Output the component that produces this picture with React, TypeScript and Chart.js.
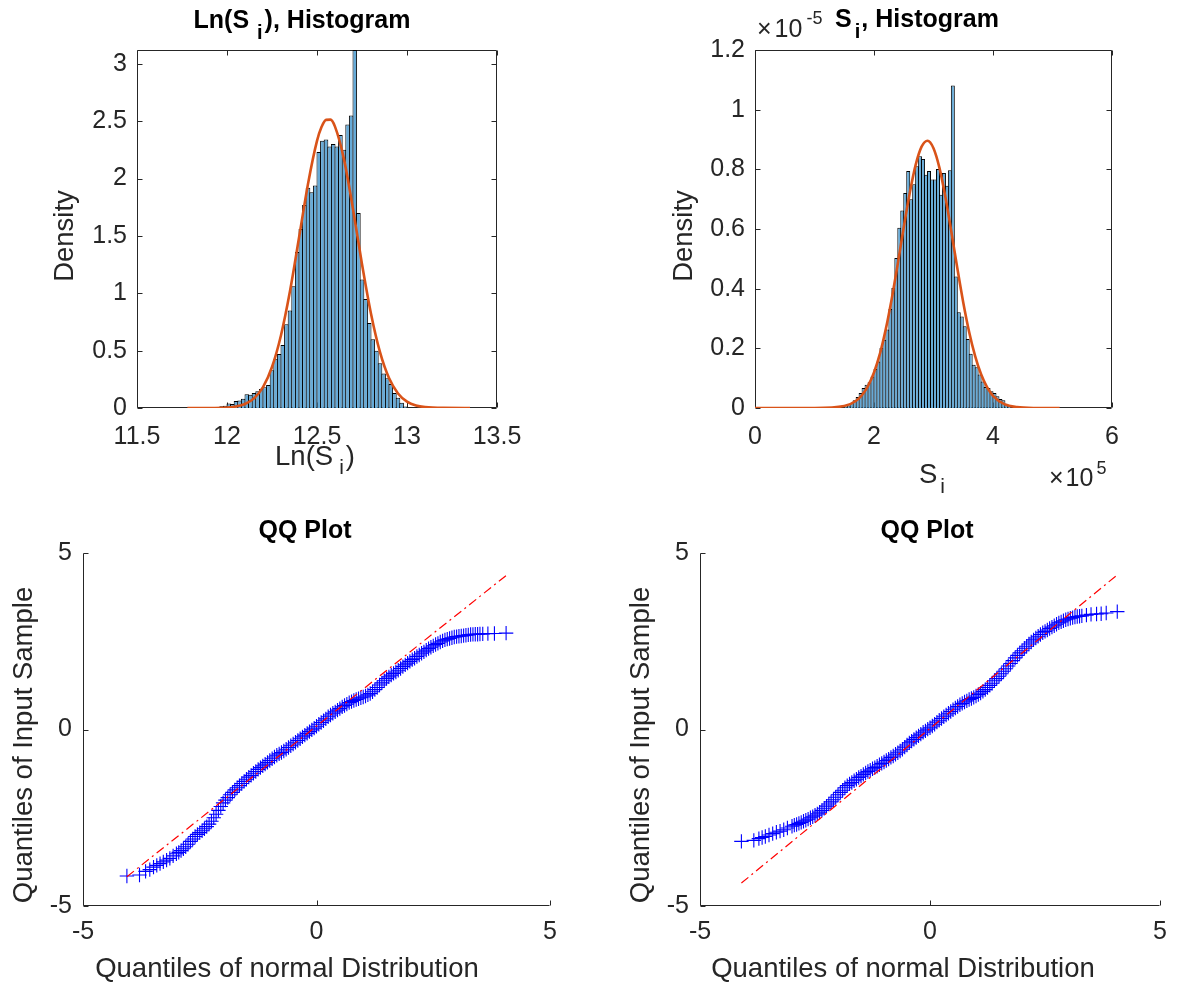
import { useEffect, useRef } from 'react';
import { Chart, registerables } from 'chart.js';

Chart.register(...registerables);

const W = 1178;
const H = 986;
const FONT = '"Liberation Sans", Arial, Helvetica, sans-serif';
const AX = '#262626';
const ORANGE = '#D95319';
const BAR_FILL = 'rgb(102,170,215)';
const TICK = 25;
const LABEL = 27.5;
const TITLE = 25;
const YW = 60;
const XH = 50;

// ---------------- data ----------------
// Ln(S_i) histogram (bin left edges, width 0.02) and density
const LN_BIN_WIDTH = 0.02;
const LN_BIN_LEFT = [
  11.96, 11.98, 12.0, 12.02, 12.04, 12.06, 12.08, 12.1, 12.12, 12.14, 12.16, 12.18, 12.2, 12.22, 12.24, 12.26,
  12.28, 12.3, 12.32, 12.34, 12.36, 12.38, 12.4, 12.42, 12.44, 12.46, 12.48, 12.5, 12.52, 12.54, 12.56, 12.58,
  12.6, 12.62, 12.64, 12.66, 12.68, 12.7, 12.72, 12.74, 12.76, 12.78, 12.8, 12.82, 12.84, 12.86, 12.88, 12.9,
  12.92, 12.94, 12.96, 12.98,
];
const LN_DENSITY = [
  0.015, 0.02, 0.04, 0.035, 0.06, 0.065, 0.08, 0.12, 0.115, 0.13, 0.145, 0.165, 0.18, 0.2, 0.33, 0.43,
  0.47, 0.55, 0.73, 0.85, 1.06, 1.36, 1.56, 1.77, 1.92, 1.88, 1.94, 2.23, 2.33, 2.34, 2.28, 2.3,
  2.28, 2.38, 2.25, 2.47, 2.55, 3.12, 1.7, 1.12, 0.95, 0.74, 0.6, 0.5, 0.39, 0.3, 0.26, 0.21,
  0.13, 0.09, 0.045, 0.012,
];
const LN_FIT_X = [
  11.78, 11.9, 12.0, 12.05, 12.1, 12.15, 12.2, 12.25, 12.3, 12.35, 12.4, 12.45, 12.5, 12.525, 12.55, 12.575,
  12.6, 12.65, 12.7, 12.75, 12.8, 12.85, 12.9, 12.95, 13.0, 13.05, 13.1, 13.2, 13.35,
];
const LN_FIT_Y = [
  0, 0.0004, 0.0045, 0.013, 0.035, 0.084, 0.182, 0.357, 0.634, 1.019, 1.483, 1.953, 2.328, 2.448, 2.511, 2.513,
  2.452, 2.167, 1.734, 1.254, 0.822, 0.487, 0.261, 0.127, 0.056, 0.022, 0.008, 0.0008, 0,
];
const LN_X_TICKS = [11.5, 12, 12.5, 13, 13.5];
const LN_Y_TICKS = [0, 0.5, 1, 1.5, 2, 2.5, 3];

// S_i histogram: x in units of 1e5, density in units of 1e-5
const S_BIN_WIDTH_E5 = 0.05;
const S_BIN_LEFT_E5 = [
  1.5, 1.55, 1.6, 1.65, 1.7, 1.75, 1.8, 1.85, 1.9, 1.95, 2.0, 2.05, 2.1, 2.15, 2.2, 2.25, 2.3, 2.35, 2.4, 2.45,
  2.5, 2.55, 2.6, 2.65, 2.7, 2.75, 2.8, 2.85, 2.9, 2.95, 3.0, 3.05, 3.1, 3.15, 3.2, 3.25, 3.3, 3.35, 3.4, 3.45,
  3.5, 3.55, 3.6, 3.65, 3.7, 3.75, 3.8, 3.85, 3.9, 3.95, 4.0, 4.05, 4.1, 4.15, 4.2, 4.25,
];
const S_DENSITY_E_5 = [
  0.005, 0.008, 0.017, 0.026, 0.037, 0.05, 0.067, 0.078, 0.086, 0.106, 0.131, 0.156, 0.201, 0.229, 0.263, 0.332,
  0.402, 0.503, 0.604, 0.662, 0.721, 0.794, 0.7, 0.75, 0.81, 0.844, 0.835, 0.782, 0.794, 0.766, 0.766, 0.801,
  0.715, 0.788, 0.745, 0.797, 1.081, 0.441, 0.321, 0.307, 0.274, 0.231, 0.182, 0.145, 0.137, 0.112, 0.089, 0.07,
  0.067, 0.056, 0.05, 0.039, 0.03, 0.026, 0.014, 0.008,
];
const S_FIT_X_E5 = [
  0, 1.0, 1.5, 1.7, 1.8, 1.9, 2.0, 2.1, 2.2, 2.3, 2.4, 2.5, 2.6, 2.7, 2.8, 2.9, 3.0, 3.1, 3.2, 3.3, 3.4, 3.5,
  3.6, 3.7, 3.8, 3.9, 4.0, 4.2, 4.4, 4.7, 5.12,
];
const S_FIT_Y_E_5 = [
  0, 0.0001, 0.0066, 0.0245, 0.0437, 0.074, 0.119, 0.182, 0.266, 0.368, 0.484, 0.606, 0.72, 0.815, 0.876, 0.896,
  0.871, 0.805, 0.707, 0.591, 0.469, 0.354, 0.254, 0.174, 0.113, 0.07, 0.041, 0.012, 0.003, 0.0002, 0,
];
const S_X_TICKS = [0, 2, 4, 6];
const S_Y_TICKS = [0, 0.2, 0.4, 0.6, 0.8, 1, 1.2];

// Theoretical normal quantiles used in both QQ plots
const QQ_X_LEFT_TAIL_1 = [-4.06, -3.79, -3.66, -3.57, -3.49, -3.42, -3.35, -3.28, -3.21, -3.14, -3.07];
const QQ_X_MID = [
  -3.0, -2.95, -2.9, -2.85, -2.8, -2.75, -2.7, -2.65, -2.6, -2.55, -2.5, -2.45, -2.4, -2.35, -2.3, -2.25, -2.2,
  -2.15, -2.1, -2.05, -2.0, -1.95, -1.9, -1.85, -1.8, -1.75, -1.7, -1.65, -1.6, -1.55, -1.5, -1.45, -1.4, -1.35,
  -1.3, -1.25, -1.2, -1.15, -1.1, -1.05, -1.0, -0.95, -0.9, -0.85, -0.8, -0.75, -0.7, -0.65, -0.6, -0.55, -0.5,
  -0.45, -0.4, -0.35, -0.3, -0.25, -0.2, -0.15, -0.1, -0.05, 0.0, 0.05, 0.1, 0.15, 0.2, 0.25, 0.3, 0.35, 0.4,
  0.45, 0.5, 0.55, 0.6, 0.65, 0.7, 0.75, 0.8, 0.85, 0.9, 0.95, 1.0, 1.05, 1.1, 1.15, 1.2, 1.25, 1.3, 1.35, 1.4,
  1.45, 1.5, 1.55, 1.6, 1.65, 1.7, 1.75, 1.8, 1.85, 1.9, 1.95, 2.0, 2.05, 2.1, 2.15, 2.2, 2.25, 2.3, 2.35, 2.4,
  2.45, 2.5, 2.55, 2.6, 2.65, 2.7, 2.75, 2.8, 2.85, 2.9, 2.95, 3.0,
];
const QQ_X_RIGHT_TAIL_1 = [3.05, 3.1, 3.15, 3.2, 3.25, 3.3, 3.35, 3.4, 3.45, 3.5, 3.56, 3.67, 3.81, 4.06];

// QQ plot of Ln(S_i): sample quantiles
const QQ1_Y_LEFT_TAIL = [-4.15, -4.12, -4.02, -3.97, -3.9, -3.85, -3.8, -3.75, -3.7, -3.65, -3.58];
const QQ1_Y_MID = [
  -3.52, -3.48, -3.43, -3.38, -3.32, -3.25, -3.17, -3.1, -3.03, -2.97, -2.92, -2.87, -2.81, -2.75, -2.68, -2.6,
  -2.5, -2.4, -2.29, -2.18, -2.08, -2.0, -1.93, -1.85, -1.78, -1.71, -1.65, -1.59, -1.53, -1.47, -1.41, -1.35,
  -1.3, -1.24, -1.19, -1.13, -1.08, -1.03, -0.98, -0.93, -0.88, -0.83, -0.78, -0.73, -0.69, -0.65, -0.61, -0.56,
  -0.51, -0.46, -0.41, -0.36, -0.31, -0.26, -0.21, -0.16, -0.11, -0.06, -0.01, 0.04, 0.09, 0.15, 0.2, 0.25, 0.3,
  0.36, 0.41, 0.46, 0.5, 0.55, 0.59, 0.64, 0.68, 0.72, 0.76, 0.79, 0.82, 0.85, 0.87, 0.9, 0.92, 0.95, 0.98, 1.02,
  1.07, 1.13, 1.19, 1.26, 1.32, 1.38, 1.44, 1.49, 1.54, 1.59, 1.63, 1.68, 1.73, 1.78, 1.83, 1.88, 1.93, 1.98,
  2.02, 2.07, 2.11, 2.16, 2.2, 2.25, 2.29, 2.33, 2.37, 2.41, 2.44, 2.48, 2.51, 2.54, 2.56, 2.58, 2.6, 2.62, 2.63,
];
const QQ1_Y_RIGHT_TAIL = [2.64, 2.65, 2.66, 2.67, 2.68, 2.69, 2.695, 2.7, 2.7, 2.705, 2.71, 2.715, 2.72, 2.73];
const QQ1_REF_X = [-4.06, 4.06];
const QQ1_REF_Y = [-4.17, 4.36];

// QQ plot of S_i: sample quantiles
const QQ_X_LEFT_TAIL_2 = [-4.1, -3.83, -3.72, -3.65, -3.58, -3.5, -3.42, -3.34, -3.26, -3.18, -3.1];
const QQ_X_RIGHT_TAIL_2 = [3.05, 3.1, 3.15, 3.2, 3.25, 3.3, 3.4, 3.5, 3.62, 3.72, 3.83, 4.07];
const QQ2_Y_LEFT_TAIL = [-3.17, -3.14, -3.09, -3.06, -3.03, -2.99, -2.95, -2.91, -2.88, -2.84, -2.79];
const QQ2_Y_MID = [
  -2.74, -2.71, -2.69, -2.66, -2.63, -2.6, -2.57, -2.54, -2.5, -2.47, -2.43, -2.39, -2.34, -2.29, -2.23, -2.17,
  -2.11, -2.05, -1.99, -1.92, -1.85, -1.78, -1.72, -1.65, -1.59, -1.54, -1.5, -1.45, -1.41, -1.36, -1.32, -1.27,
  -1.23, -1.19, -1.15, -1.11, -1.08, -1.04, -1.0, -0.96, -0.92, -0.88, -0.84, -0.79, -0.75, -0.7, -0.66, -0.61,
  -0.56, -0.5, -0.44, -0.38, -0.33, -0.28, -0.23, -0.18, -0.13, -0.08, -0.04, 0.01, 0.05, 0.1, 0.15, 0.21, 0.26,
  0.31, 0.36, 0.41, 0.46, 0.51, 0.56, 0.61, 0.65, 0.7, 0.74, 0.78, 0.81, 0.85, 0.88, 0.91, 0.95, 0.99, 1.03, 1.08,
  1.13, 1.19, 1.25, 1.31, 1.38, 1.44, 1.51, 1.58, 1.65, 1.72, 1.8, 1.87, 1.95, 2.03, 2.1, 2.17, 2.23, 2.3, 2.36,
  2.42, 2.48, 2.54, 2.59, 2.64, 2.69, 2.74, 2.78, 2.82, 2.86, 2.9, 2.94, 2.98, 3.02, 3.05, 3.08, 3.11, 3.13,
];
const QQ2_Y_RIGHT_TAIL = [3.15, 3.17, 3.185, 3.2, 3.21, 3.22, 3.24, 3.26, 3.27, 3.28, 3.3, 3.34];
const QQ2_REF_X = [-4.1, 4.07];
const QQ2_REF_Y = [-4.35, 4.38];
const QQ_TICKS = [-5, 0, 5];

// ---------------- layout ----------------
type Area = { l: number; t: number; r: number; b: number };
const AREA_TL: Area = { l: 137, t: 50, r: 497, b: 408 };
const AREA_TR: Area = { l: 755, t: 50, r: 1112, b: 408 };
const AREA_BL: Area = { l: 83, t: 553, r: 550, b: 906 };
const AREA_BR: Area = { l: 700, t: 553, r: 1167, b: 906 };

type Part = { t: string; size?: number; dy?: number; dx?: number };
type TextItem = {
  parts: Part[];
  x: number;
  y: number;
  size: number;
  bold?: boolean;
  rot?: boolean;
  color?: string;
  align?: 'center' | 'left';
};

function drawText(ctx: CanvasRenderingContext2D, item: TextItem) {
  ctx.save();
  ctx.translate(item.x, item.y);
  if (item.rot) ctx.rotate(-Math.PI / 2);
  ctx.textBaseline = 'alphabetic';
  ctx.textAlign = 'left';
  ctx.fillStyle = item.color || AX;
  const fontFor = (p: Part) => `${item.bold ? 'bold ' : ''}${p.size ?? item.size}px ${FONT}`;
  let total = 0;
  const widths = item.parts.map((p) => {
    ctx.font = fontFor(p);
    const w = ctx.measureText(p.t).width + (p.dx ?? 0);
    total += w;
    return w;
  });
  let x = item.align === 'left' ? 0 : -total / 2;
  item.parts.forEach((p, i) => {
    ctx.font = fontFor(p);
    ctx.fillText(p.t, x + (p.dx ?? 0), p.dy ?? 0);
    x += widths[i];
  });
  ctx.restore();
}

function axesPlugin(cfg: { box: boolean; xTicks: number[]; yTicks: number[]; texts: TextItem[] }) {
  return {
    id: 'matlabAxes',
    beforeDatasetsDraw(chart: any) {
      const { ctx, chartArea: a, scales } = chart;
      const L = Math.round(a.left) + 0.5;
      const R = Math.round(a.right) - 0.5;
      const T = Math.round(a.top) + 0.5;
      const B = Math.round(a.bottom) - 0.5;
      const TL = 5;
      ctx.save();
      ctx.strokeStyle = AX;
      ctx.lineWidth = 1;
      ctx.beginPath();
      if (cfg.box) {
        ctx.moveTo(L, T);
        ctx.lineTo(L, B);
        ctx.lineTo(R, B);
        ctx.lineTo(R, T);
        ctx.closePath();
      } else {
        ctx.moveTo(L, T);
        ctx.lineTo(L, B);
        ctx.lineTo(R, B);
      }
      for (const v of cfg.xTicks) {
        const px = Math.round(scales.x.getPixelForValue(v)) + 0.5;
        ctx.moveTo(px, B);
        ctx.lineTo(px, B - TL);
        if (cfg.box) {
          ctx.moveTo(px, T);
          ctx.lineTo(px, T + TL);
        }
      }
      for (const v of cfg.yTicks) {
        const py = Math.round(scales.y.getPixelForValue(v)) + 0.5;
        ctx.moveTo(L, py);
        ctx.lineTo(L + TL, py);
        if (cfg.box) {
          ctx.moveTo(R, py);
          ctx.lineTo(R - TL, py);
        }
      }
      ctx.stroke();
      ctx.restore();
    },
    afterDraw(chart: any) {
      const ctx = chart.ctx;
      for (const t of cfg.texts) drawText(ctx, t);
    },
  };
}

function fmtTick(v: number) {
  return String(Math.round(v * 1000) / 1000);
}

function axisScale(min: number, max: number, ticks: number[], horizontal: boolean, pad: number) {
  return {
    type: 'linear',
    min,
    max,
    offset: false,
    afterBuildTicks: (s: any) => {
      s.ticks = ticks.map((v) => ({ value: v }));
    },
    afterFit: (s: any) => {
      if (horizontal) s.height = XH;
      else s.width = YW;
    },
    grid: { display: false, drawTicks: false, offset: false },
    border: { display: false },
    ticks: {
      autoSkip: false,
      maxRotation: 0,
      minRotation: 0,
      padding: pad,
      color: AX,
      font: { family: FONT, size: TICK },
      callback: (v: any) => fmtTick(Number(v)),
    },
  };
}

function baseOptions(area: Area, x: any, y: any) {
  return {
    responsive: false,
    maintainAspectRatio: false,
    animation: false,
    devicePixelRatio: 1,
    events: [],
    layout: { padding: { left: area.l - YW, top: area.t, right: W - area.r, bottom: H - area.b - XH } },
    plugins: { legend: { display: false }, tooltip: { enabled: false }, title: { display: false } },
    scales: { x, y },
  };
}

// bars overlap by one pixel so that adjacent edges collapse into a single outline
function overlapPct(area: Area, xMin: number, xMax: number, binW: number) {
  const pitch = ((area.r - area.l) / (xMax - xMin)) * binW;
  return (pitch + 1) / pitch;
}

function histDatasets(left: number[], dens: number[], binW: number, fx: number[], fy: number[], pct: number) {
  const bars = left.map((l, i) => ({ x: l + binW / 2, y: dens[i] }));
  const fit = fx.map((x, i) => ({ x, y: fy[i] }));
  return [
    { type: 'line', data: fit, borderColor: ORANGE, borderWidth: 2.6, pointRadius: 0, cubicInterpolationMode: 'monotone', fill: false },
    {
      type: 'bar',
      data: bars,
      backgroundColor: BAR_FILL,
      borderColor: '#000',
      borderWidth: 1,
      borderSkipped: 'start',
      barPercentage: pct,
      categoryPercentage: 1,
      inflateAmount: 0,
    },
  ];
}

function lnHistConfig(): any {
  return {
    type: 'bar',
    data: { datasets: histDatasets(LN_BIN_LEFT, LN_DENSITY, LN_BIN_WIDTH, LN_FIT_X, LN_FIT_Y, overlapPct(AREA_TL, 11.5, 13.5, LN_BIN_WIDTH)) },
    options: baseOptions(AREA_TL, axisScale(11.5, 13.5, LN_X_TICKS, true, 14), axisScale(0, 3.12, LN_Y_TICKS, false, 10)),
    plugins: [
      axesPlugin({
        box: true,
        xTicks: LN_X_TICKS,
        yTicks: LN_Y_TICKS,
        texts: [
          { parts: [{ t: 'Ln(S' }, { t: 'i', size: 20, dy: 11, dx: 8 }, { t: '), Histogram', dx: 2 }], x: 302, y: 28, size: TITLE, bold: true, color: '#000' },
          { parts: [{ t: 'Density' }], x: 73, y: 236, size: LABEL, rot: true },
          { parts: [{ t: 'Ln(S' }, { t: 'i', size: 21, dy: 9, dx: 6 }, { t: ')', dx: 2 }], x: 315, y: 465, size: LABEL },
        ],
      }),
    ],
  };
}

function sHistConfig(): any {
  return {
    type: 'bar',
    data: { datasets: histDatasets(S_BIN_LEFT_E5, S_DENSITY_E_5, S_BIN_WIDTH_E5, S_FIT_X_E5, S_FIT_Y_E_5, overlapPct(AREA_TR, 0, 6, S_BIN_WIDTH_E5)) },
    options: baseOptions(AREA_TR, axisScale(0, 6, S_X_TICKS, true, 14), axisScale(0, 1.2, S_Y_TICKS, false, 10)),
    plugins: [
      axesPlugin({
        box: true,
        xTicks: S_X_TICKS,
        yTicks: S_Y_TICKS,
        texts: [
          { parts: [{ t: 'S' }, { t: 'i', size: 20, dy: 11, dx: 3 }, { t: ', Histogram', dx: 1 }], x: 917, y: 27, size: TITLE, bold: true, color: '#000' },
          { parts: [{ t: '\u00d7' }, { t: '10', dx: 3 }, { t: '-5', size: 18, dy: -13, dx: 4 }], x: 757, y: 37, size: TICK, align: 'left' },
          { parts: [{ t: 'Density' }], x: 692, y: 236, size: LABEL, rot: true },
          { parts: [{ t: 'S' }, { t: 'i', size: 21, dy: 10, dx: 3 }], x: 932, y: 483, size: LABEL },
          { parts: [{ t: '\u00d7' }, { t: '10', dx: 2 }, { t: '5', size: 18, dy: -12, dx: 3 }], x: 1049, y: 486, size: TICK, align: 'left' },
        ],
      }),
    ],
  };
}

function qqConfig(area: Area, xs: number[], ys: number[], rx: number[], ry: number[], titleX: number, ylabX: number, xlabX: number): any {
  const pts = xs.map((x, i) => ({ x, y: ys[i] }));
  const ref = rx.map((x, i) => ({ x, y: ry[i] }));
  return {
    type: 'scatter',
    data: {
      datasets: [
        { type: 'line', data: ref, borderColor: '#ff0000', borderWidth: 1.2, borderDash: [9, 4, 2, 4], pointRadius: 0, fill: false, tension: 0 },
        { type: 'scatter', data: pts, pointStyle: 'cross', pointRadius: 7.2, borderColor: '#0000ff', backgroundColor: '#0000ff', borderWidth: 1.1, showLine: false },
      ],
    },
    options: baseOptions(area, axisScale(-5, 5, QQ_TICKS, true, 11), axisScale(-5, 5, QQ_TICKS, false, 11)),
    plugins: [
      axesPlugin({
        box: false,
        xTicks: QQ_TICKS,
        yTicks: QQ_TICKS,
        texts: [
          { parts: [{ t: 'QQ Plot' }], x: titleX, y: 538, size: TITLE, bold: true, color: '#000' },
          { parts: [{ t: 'Quantiles of Input Sample' }], x: ylabX, y: 745, size: LABEL, rot: true },
          { parts: [{ t: 'Quantiles of normal Distribution' }], x: xlabX, y: 977, size: LABEL },
        ],
      }),
    ],
  };
}

function ChartCanvas({ make }: { make: () => any }) {
  const ref = useRef<HTMLCanvasElement>(null);
  useEffect(() => {
    if (!ref.current) return;
    const chart = new Chart(ref.current, make());
    return () => chart.destroy();
  }, [make]);
  return <canvas ref={ref} width={W} height={H} style={{ position: 'absolute', left: 0, top: 0, width: W, height: H }} />;
}

const QQ1_X = [...QQ_X_LEFT_TAIL_1, ...QQ_X_MID, ...QQ_X_RIGHT_TAIL_1];
const QQ1_Y = [...QQ1_Y_LEFT_TAIL, ...QQ1_Y_MID, ...QQ1_Y_RIGHT_TAIL];
const QQ2_X = [...QQ_X_LEFT_TAIL_2, ...QQ_X_MID, ...QQ_X_RIGHT_TAIL_2];
const QQ2_Y = [...QQ2_Y_LEFT_TAIL, ...QQ2_Y_MID, ...QQ2_Y_RIGHT_TAIL];

const makeTL = () => lnHistConfig();
const makeTR = () => sHistConfig();
const makeBL = () => qqConfig(AREA_BL, QQ1_X, QQ1_Y, QQ1_REF_X, QQ1_REF_Y, 305, 32, 287);
const makeBR = () => qqConfig(AREA_BR, QQ2_X, QQ2_Y, QQ2_REF_X, QQ2_REF_Y, 927, 649, 903);

export default function App() {
  return (
    <div style={{ position: 'absolute', left: 0, top: 0, width: W, height: H, background: '#fff', overflow: 'hidden' }}>
      <ChartCanvas make={makeTL} />
      <ChartCanvas make={makeTR} />
      <ChartCanvas make={makeBL} />
      <ChartCanvas make={makeBR} />
    </div>
  );
}
